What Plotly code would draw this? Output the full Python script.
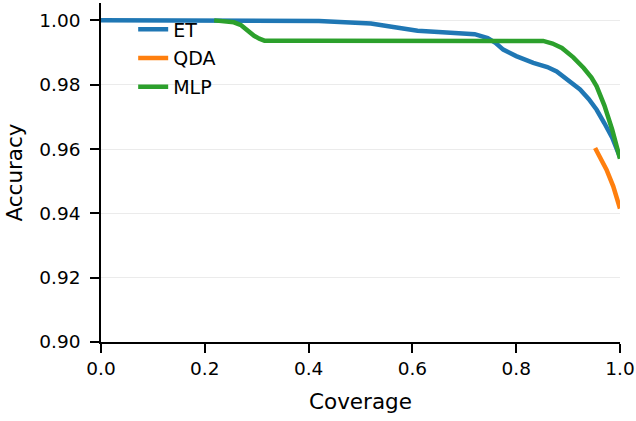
import plotly.graph_objects as go

# ---- data ----
et_x = [0.0, 0.1, 0.2, 0.3, 0.39, 0.42, 0.47, 0.52, 0.56, 0.61, 0.65, 0.70, 0.72,
        0.745, 0.76, 0.775, 0.80, 0.833, 0.86, 0.878, 0.90, 0.923, 0.94, 0.955,
        0.97, 0.985, 1.0]
et_y = [1.0, 1.0, 1.0, 1.0, 1.0, 0.9998, 0.9994, 0.9990, 0.9980, 0.9968, 0.9964,
        0.9961, 0.9957, 0.9945, 0.9930, 0.9909, 0.9889, 0.9868, 0.9855, 0.9841,
        0.9815, 0.9785, 0.9755, 0.9722, 0.9680, 0.9635, 0.9575]

qda_x = [0.952, 0.962, 0.974, 0.987, 1.0]
qda_y = [0.9603, 0.9570, 0.9536, 0.9484, 0.9415]

mlp_x = [0.218, 0.24, 0.256, 0.27, 0.285, 0.295, 0.305, 0.315, 0.40, 0.50, 0.60,
         0.70, 0.80, 0.852, 0.87, 0.888, 0.91, 0.93, 0.945, 0.955, 0.97, 0.985, 1.0]
mlp_y = [1.0, 0.9998, 0.9994, 0.9985, 0.9965, 0.9952, 0.9943, 0.9937, 0.9937,
         0.9937, 0.9937, 0.9937, 0.9937, 0.9936, 0.9928, 0.9914, 0.9885, 0.9852,
         0.9822, 0.9795, 0.9735, 0.9660, 0.9570]

x_ticks = [0.0, 0.2, 0.4, 0.6, 0.8, 1.0]
y_ticks = [0.90, 0.92, 0.94, 0.96, 0.98, 1.00]

series = [
    ("ET", et_x, et_y, "#1f77b4"),
    ("QDA", qda_x, qda_y, "#ff7f0e"),
    ("MLP", mlp_x, mlp_y, "#2ca02c"),
]

FONT = "DejaVu Sans"

fig = go.Figure()
for name, xs, ys, col in series:
    fig.add_trace(go.Scatter(x=xs, y=ys, name=name, mode="lines", legendgroup=name,
                             line=dict(color=col, width=4.5)))

axis_common = dict(
    showline=True, linecolor="black", linewidth=1.5,
    ticks="outside", ticklen=9, tickwidth=1.5, tickcolor="black",
    tickfont=dict(family=FONT, size=18.5, color="black"),
    zeroline=False, mirror=False,
)

fig.update_layout(
    width=636, height=421,
    margin=dict(l=101, r=16, t=3, b=79, autoexpand=False),
    paper_bgcolor="white", plot_bgcolor="white",
    font=dict(family=FONT, color="black"),
    xaxis=dict(range=[0, 1], tickvals=x_ticks,
               ticktext=[f"{v:.1f}" for v in x_ticks], showgrid=False,
               title=dict(text="Coverage", font=dict(family=FONT, size=21.5),
                          standoff=16),
               **axis_common),
    yaxis=dict(range=[0.9, 1.0054], tickvals=y_ticks,
               ticktext=[f"{v:.2f}" for v in y_ticks], showgrid=True,
               gridcolor="#ebebeb", gridwidth=1, ticklabelstandoff=6,
               title=dict(text="Accuracy", font=dict(family=FONT, size=21.5),
                          standoff=11),
               **axis_common),
    showlegend=True,
    legend=dict(x=0.062, y=0.978, xanchor="left", yanchor="top",
                traceorder="grouped", tracegroupgap=1,
                bgcolor="rgba(0,0,0,0)", borderwidth=0,
                font=dict(family=FONT, size=19, color="black")),
)

fig.write_html("out.html")
